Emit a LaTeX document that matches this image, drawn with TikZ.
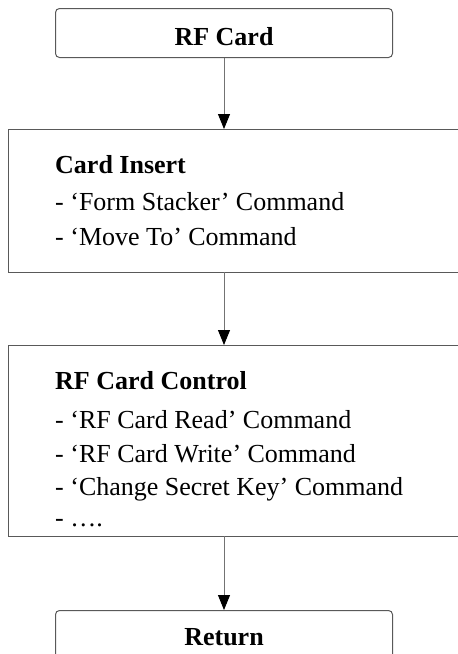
\documentclass[tikz,border=0pt]{standalone}
\usepackage{fontspec}
\setmainfont{Liberation Serif}
\usetikzlibrary{arrows.meta}
\begin{document}
\begin{tikzpicture}[x=1pt,y=-1pt,
  boxline/.style={draw=black!65,line width=1pt},
  stepbox/.style={boxline,rectangle,inner sep=0pt,anchor=north west},
  endbox/.style={stepbox,rounded corners=4pt},
  txt/.style={anchor=base west,inner sep=0pt,font=\fontsize{26}{30}\selectfont},
  ttl/.style={txt,font=\fontsize{26}{30}\selectfont\bfseries},
  flow/.style={draw=black!55,line width=0.9pt,-{Triangle[width=12pt,length=15pt,fill=black,color=black]}}]
\useasboundingbox (0,0) rectangle (458,654);
\clip (0,0) rectangle (458,654);
% boxes
\node[endbox,minimum width=337pt,minimum height=49pt] (rf) at (55,8) {};
\node[stepbox,minimum width=470pt,minimum height=143pt] (ins) at (8,129) {};
\node[stepbox,minimum width=470pt,minimum height=191pt] (ctl) at (8,345) {};
\node[endbox,minimum width=337pt,minimum height=60pt] (ret) at (55,610) {};
% texts
\node[anchor=base,inner sep=0pt,font=\fontsize{26}{30}\selectfont\bfseries] (rft) at (224,45) {RF Card};
\node[ttl] (insT) at (55,173) {Card Insert};
\node[txt] (ins1) at (55,210) {- `Form Stacker' Command};
\node[txt] (ins2) at (55,245) {- `Move To' Command};
\node[ttl] (ctlT) at (55,389) {RF Card Control};
\node[txt] (ctl1) at (55,428) {- `RF Card Read' Command};
\node[txt] (ctl2) at (55,462) {- `RF Card Write' Command};
\node[txt] (ctl3) at (55,495) {- `Change Secret Key' Command};
\node[txt] (ctl4) at (55,526) {- \dots.};
\node[anchor=base,inner sep=0pt,font=\fontsize{26}{30}\selectfont\bfseries] (rett) at (224,645) {Return};
% connectors
\coordinate (a1) at (224,57);
\coordinate (a2) at (224,129);
\coordinate (b1) at (224,272);
\coordinate (b2) at (224,345);
\coordinate (c1) at (224,536);
\coordinate (c2) at (224,610);
\draw[flow] (rf.south -| a1) -- (a2);
\draw[flow] (b1) -- (b2);
\draw[flow] (c1) -- (ret.north -| c2);
\end{tikzpicture}
\end{document}
